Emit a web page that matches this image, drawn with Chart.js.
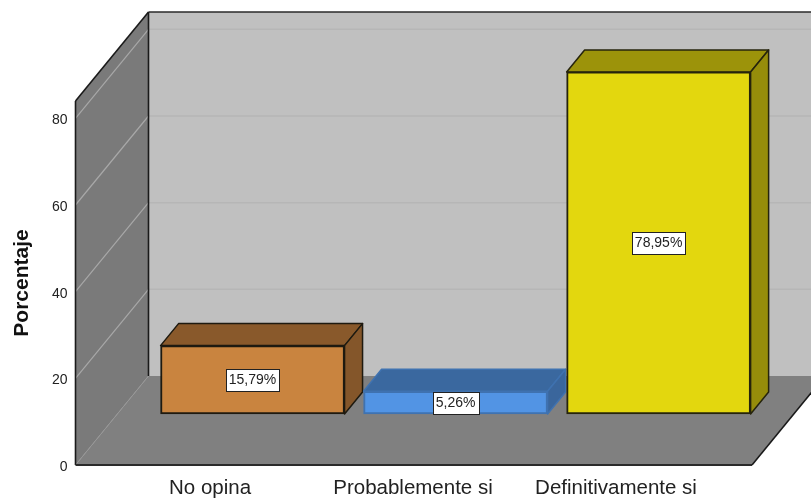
<!DOCTYPE html>
<html><head><meta charset="utf-8">
<style>html,body{margin:0;padding:0;background:#fff}#w{width:811px;height:498px}</style>
<script src="https://cdn.jsdelivr.net/npm/chart.js@4/dist/chart.umd.min.js"></script>
</head><body><div id="w"><canvas id="c"></canvas></div>
<script>
const categories = ['No opina', 'Probablemente si', 'Definitivamente si'];
const percentages = [15.79, 5.26, 78.95];
const valueLabels = ['15,79%', '5,26%', '78,95%'];
const frontColors = ['#C9843F', '#5294E4', '#E3D70E'];
const topColors = ['#89592B', '#3A689F', '#9C930A'];
const sideColors = ['#84562A', '#3A669C', '#968D0A'];
const edgeColors = ['#1E1A10', '#3F72B0', '#26240C'];

const wallDepth = {dx: 73, dy: -89};
const barDepth = {dx: 18, dy: -22};

function poly(ctx, pts, fill, stroke, lw) {
  ctx.beginPath();
  pts.forEach((p, i) => i ? ctx.lineTo(p[0], p[1]) : ctx.moveTo(p[0], p[1]));
  ctx.closePath();
  if (fill) { ctx.fillStyle = fill; ctx.fill(); }
  if (stroke) { ctx.strokeStyle = stroke; ctx.lineWidth = lw; ctx.lineJoin = 'round'; ctx.stroke(); }
}
function seg(ctx, a, b, color, lw) {
  ctx.beginPath(); ctx.moveTo(a[0], a[1]); ctx.lineTo(b[0], b[1]);
  ctx.strokeStyle = color; ctx.lineWidth = lw; ctx.stroke();
}

const scene = {
  id: 'scene',
  beforeDatasetsDraw(chart) {
    const {ctx, chartArea: a, scales: {y}} = chart;
    const d = wallDepth, L = a.left, R = a.right, B = a.bottom, T = a.top;
    ctx.save();
    // back wall
    poly(ctx, [[L + d.dx, T + d.dy], [chart.width, T + d.dy], [chart.width, B + d.dy], [L + d.dx, B + d.dy]], '#C0C0C0');
    // side wall
    poly(ctx, [[L, T], [L + d.dx, T + d.dy], [L + d.dx, B + d.dy], [L, B]], '#7A7A7A');
    // floor
    poly(ctx, [[L, B], [R, B], [R + d.dx, B + d.dy], [L + d.dx, B + d.dy]], '#808080');
    // gridlines
    y.ticks.forEach(t => {
      const py = y.getPixelForValue(t.value);
      seg(ctx, [L, py], [L + d.dx, py + d.dy], t.value > 0 ? '#A8A8A8' : '#969696', t.value > 0 ? 1.2 : 1);
      if (t.value > 0) seg(ctx, [L + d.dx, py + d.dy], [chart.width, py + d.dy], '#B6B6B6', 1.5);
    });
    // frame
    seg(ctx, [L, T], [L + d.dx, T + d.dy], '#1A1A1A', 1.6);
    seg(ctx, [L + d.dx, T + d.dy], [chart.width, T + d.dy], '#2A2A2A', 1.6);
    seg(ctx, [L, T], [L, B], '#1A1A1A', 1.6);
    seg(ctx, [L + d.dx, T + d.dy], [L + d.dx, B + d.dy], '#1A1A1A', 1.6);
    seg(ctx, [L, B], [R, B], '#2A2A2A', 1.8);
    seg(ctx, [R, B], [R + d.dx, B + d.dy], '#1A1A1A', 1.6);
    // 3D faces of the bars
    chart.getDatasetMeta(0).data.forEach((bar, i) => {
      const hw = bar.width / 2, x0 = bar.x - hw, x1 = bar.x + hw, yt = bar.y, yb = bar.base;
      const dx = barDepth.dx, dy = barDepth.dy, e = edgeColors[i];
      poly(ctx, [[x0, yt], [x0 + dx, yt + dy], [x1 + dx, yt + dy], [x1, yt]], topColors[i], e, 1.5);
      poly(ctx, [[x1, yt], [x1 + dx, yt + dy], [x1 + dx, yb + dy], [x1, yb]], sideColors[i], e, 1.5);
    });
    ctx.restore();
  },
  afterDatasetsDraw(chart) {
    const {ctx} = chart;
    ctx.save();
    ctx.font = '14px "Liberation Sans", Arial, sans-serif';
    ctx.textAlign = 'center'; ctx.textBaseline = 'middle';
    chart.getDatasetMeta(0).data.forEach((bar, i) => {
      const cx = bar.x, cy = (bar.y + bar.base) / 2, t = valueLabels[i];
      const w = Math.round(ctx.measureText(t).width) + 6, h = 22;
      const bx = Math.round(cx - w / 2) + .5, by = Math.round(cy - h / 2) + .5;
      ctx.fillStyle = '#fff'; ctx.fillRect(bx, by, w, h);
      ctx.strokeStyle = '#222'; ctx.lineWidth = 1; ctx.strokeRect(bx, by, w, h);
      ctx.fillStyle = '#222'; ctx.fillText(t, cx, cy + .5);
    });
    ctx.restore();
  }
};

new Chart(document.getElementById('c'), {
  type: 'bar',
  data: {
    datasets: [{
      label: 'Porcentaje',
      data: percentages.map((v, i) => ({x: i, y: v})),
      xAxisID: 'xBars', yAxisID: 'yBars',
      backgroundColor: frontColors,
      borderColor: edgeColors,
      borderWidth: 2,
      borderSkipped: false,
      clip: false,
      barThickness: 184
    }]
  },
  plugins: [scene],
  options: {
    responsive: true, maintainAspectRatio: false, animation: false,
    devicePixelRatio: 1,
    layout: {padding: {top: 101, right: 59, left: 0, bottom: 0}},
    plugins: {legend: {display: false}, tooltip: {enabled: false}, title: {display: false}},
    scales: {
      x: {
        type: 'linear', position: 'bottom', offset: false, min: -0.6626, max: 2.67,
        grid: {display: false}, border: {display: false},
        afterBuildTicks: s => { s.ticks = categories.map((_, i) => ({value: i})); },
        afterFit: s => { s.height = 33; },
        ticks: {
          autoSkip: false, maxRotation: 0, minRotation: 0, padding: 3,
          callback: v => categories[v],
          color: '#222', font: {family: '"Liberation Sans", Arial, sans-serif', size: 20.5}
        }
      },
      xBars: {type: 'linear', position: 'bottom', offset: false, display: false, min: -0.872, max: 2.46},
      y: {
        type: 'linear', position: 'left', min: 0, max: 84,
        grid: {display: false}, border: {display: false},
        afterFit: s => { s.width = 75.5; },
        title: {display: true, text: 'Porcentaje', color: '#111', padding: {top: 10, bottom: 0},
          font: {family: '"Liberation Sans", Arial, sans-serif', size: 21, weight: 'bold'}},
        ticks: {
          stepSize: 20, includeBounds: false, padding: 0, labelOffset: 2, color: '#222',
          font: {family: '"Liberation Sans", Arial, sans-serif', size: 14}
        }
      },
      yBars: {type: 'linear', position: 'left', display: false, min: -11.76, max: 72.24}
    }
  }
});
</script></body></html>
